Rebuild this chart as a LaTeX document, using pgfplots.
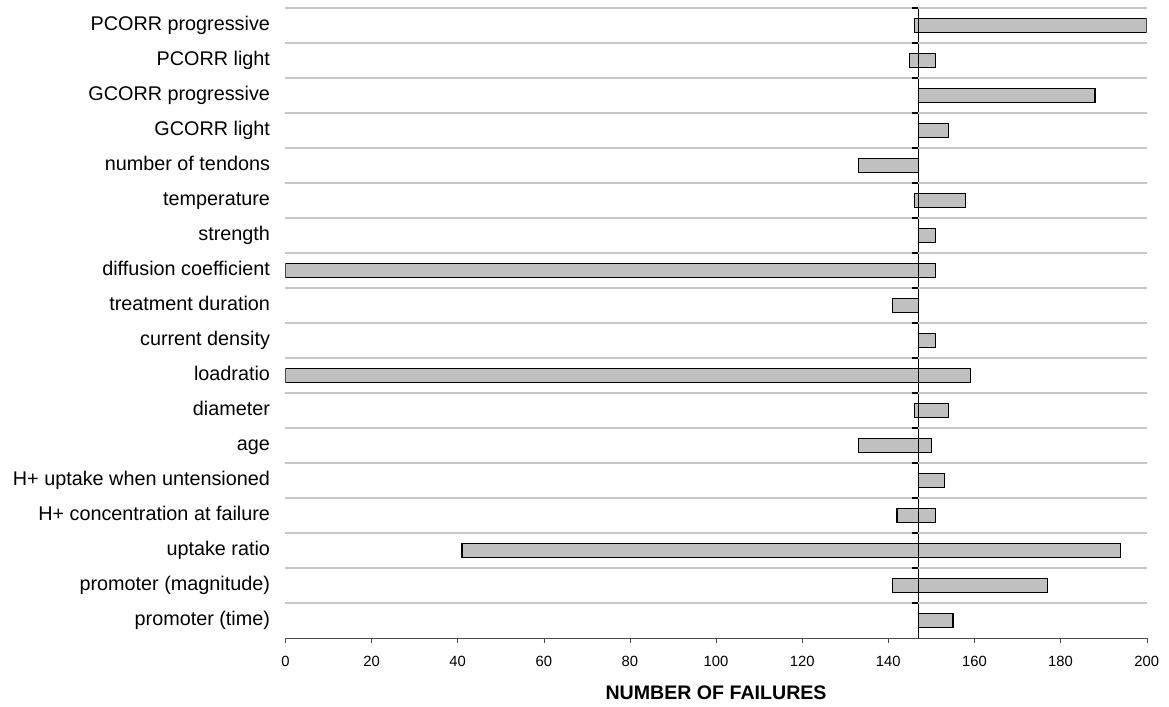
\documentclass[border=0pt]{standalone}
\usepackage{pgfplots}
\usepackage{pgfplotstable}
\usepackage{fontspec}
\setmainfont{Liberation Sans}
\pgfplotsset{compat=1.18}

% row, lowest and highest number of failures (centre = 147)
\pgfplotstableread{
row low high
1 146 200
2 145 151
3 147 188
4 147 154
5 133 147
6 146 158
7 147 151
8 0 151
9 141 147
10 147 151
11 0 159
12 146 154
13 133 150
14 147 153
15 142 151
16 41 194
17 141 177
18 147 155
}\tornado

\definecolor{barfill}{HTML}{C0C0C0}
\definecolor{gridgray}{HTML}{C8C8C8}

\begin{document}
\begin{tikzpicture}
\begin{axis}[
    scale only axis,
    width=430.7pt, height=315pt,
    xbar stacked, bar width=7pt,
    y dir=reverse,
    xmin=0, xmax=200, ymin=0.5, ymax=18.5,
    enlargelimits=false,
    axis x line*=bottom, axis y line*=left,
    y axis line style={draw=none},
    x axis line style={black!70},
    xtick={0,20,...,200},
    tick align=outside,
    major tick length=2.5pt,
    x tick style={black!70},
    x tick label style={font=\fontsize{7.4}{9}\selectfont, yshift=-3pt},
    /pgf/number format/assume math mode=true,
    ytick={1,...,18},
    yticklabels={PCORR progressive, PCORR light, GCORR progressive, GCORR light,
      number of tendons, temperature, strength, diffusion coefficient,
      treatment duration, current density, loadratio, diameter, age,
      H+ uptake when untensioned, H+ concentration at failure, uptake ratio,
      promoter (magnitude), promoter (time)},
    y tick style={draw=none},
    y tick label style={font=\fontsize{9.9}{11}\selectfont, anchor=east, inner sep=0pt,
      text height=7.1pt, text depth=2.1pt, xshift=-5pt},
    extra y ticks={0.5,1.5,...,17.5},
    extra y tick labels={},
    extra y tick style={grid=major, major grid style={gridgray, line width=0.6pt}, tick style={draw=none}},
    extra x ticks={147},
    extra x tick labels={},
    extra x tick style={grid=major, major grid style={black, line width=0.7pt}, tick style={draw=none}},
    xlabel={\textbf{NUMBER OF FAILURES}},
    xlabel style={font=\fontsize{9.8}{11}\selectfont, yshift=2pt},
]
\addplot[draw=none, fill=none] table[x=low, y=row] {\tornado};
\addplot[draw=black, fill=barfill, line width=0.6pt] table[x expr=147-\thisrow{low}, y=row] {\tornado};
\addplot[draw=black, fill=barfill, line width=0.6pt] table[x expr=\thisrow{high}-147, y=row] {\tornado};
\addplot[stack plots=false, only marks, mark=-, mark size=1.5pt, mark options={black, line width=0.7pt}]
  coordinates {(146.3,0.5) (146.3,1.5) (146.3,2.5) (146.3,3.5) (146.3,4.5) (146.3,5.5)
    (146.3,6.5) (146.3,7.5) (146.3,8.5) (146.3,9.5) (146.3,10.5) (146.3,11.5)
    (146.3,12.5) (146.3,13.5) (146.3,14.5) (146.3,15.5) (146.3,16.5) (146.3,17.5)};
\end{axis}
\path (current axis.south west) ++(-142.7pt,-34.5pt) coordinate (bl);
\path (current axis.north east) ++(11.15pt,4pt) coordinate (tr);
\pgfresetboundingbox
\path (bl) rectangle (tr);
\end{tikzpicture}
\end{document}
